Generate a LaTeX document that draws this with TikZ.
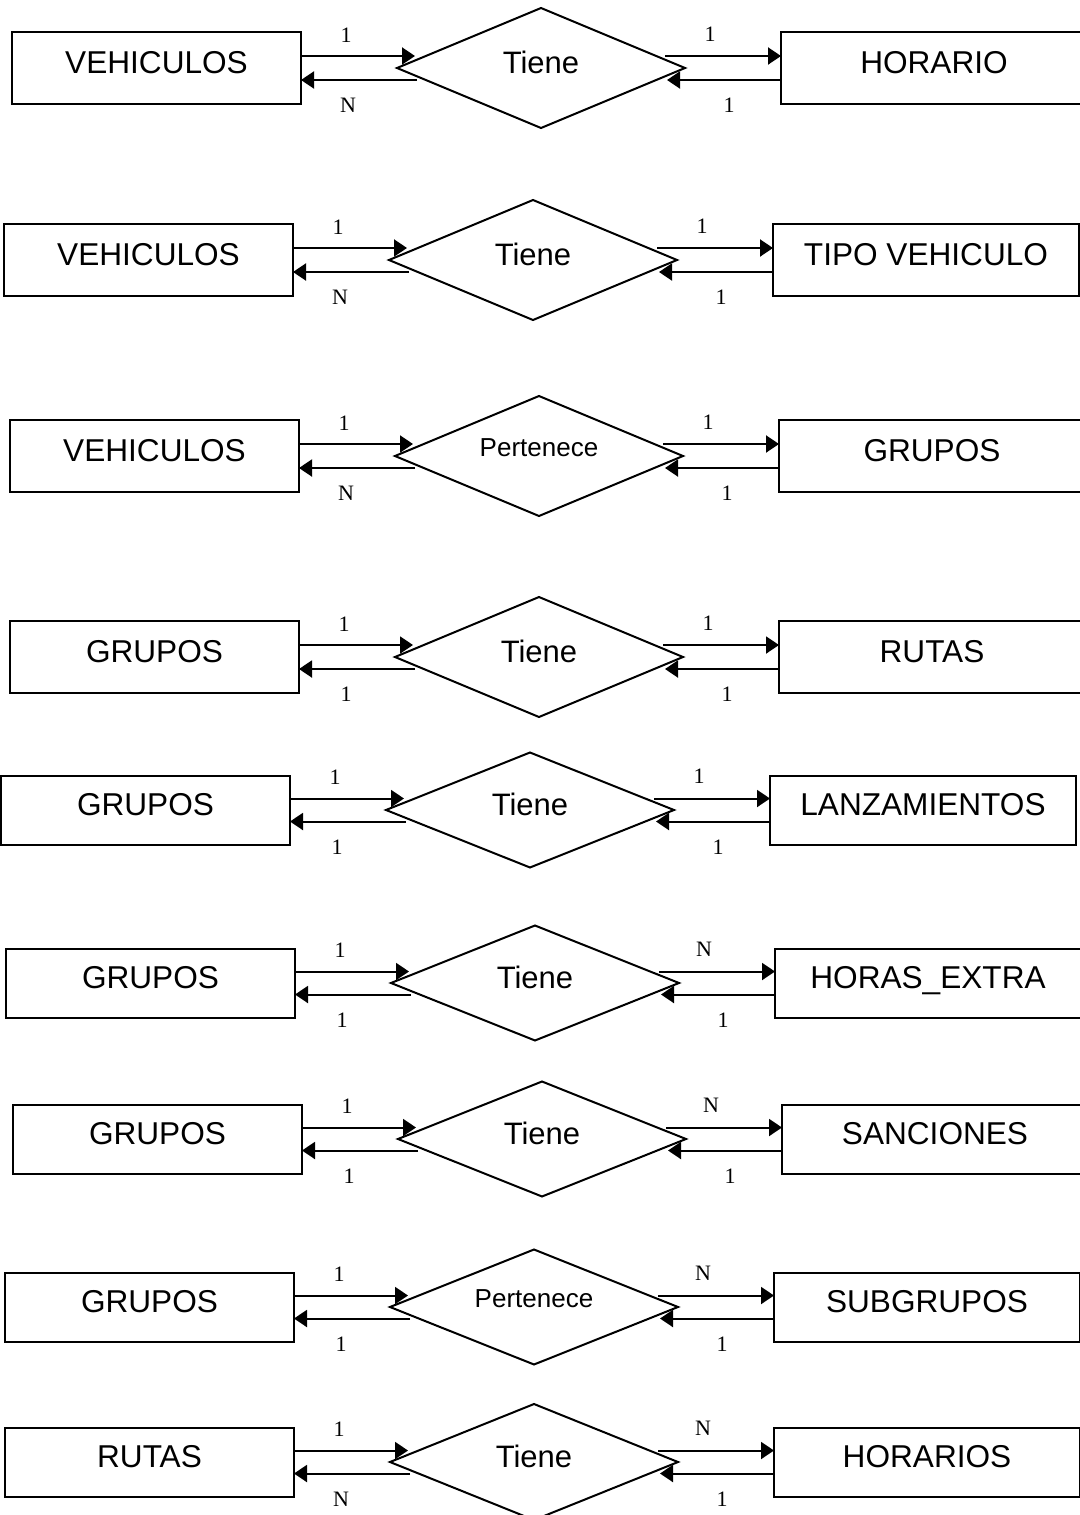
\documentclass[tikz,border=0pt]{standalone}
\usepackage{fontspec}
\setmainfont{Liberation Serif}
\newfontfamily\arialf{Liberation Sans}
\usetikzlibrary{shapes.geometric,arrows.meta,calc}
\begin{document}
\begin{tikzpicture}[x=0.5pt,y=-0.5pt,
  ent/.style={draw, line width=1pt, rectangle, inner sep=0pt, outer sep=0pt,
    font=\arialf\fontsize{15.8}{19}\selectfont, text height=11.3pt, text depth=6.3pt},
  rel/.style={draw, line width=1pt, diamond, aspect=2.4, inner sep=0pt, outer sep=0pt,
    minimum width=144pt},
  tiene/.style={rel, font=\arialf\fontsize{15.5}{18}\selectfont, text height=11.1pt, text depth=6.1pt},
  pert/.style={rel, font=\arialf\fontsize{13}{16}\selectfont, text height=6pt, text depth=6pt},
  card/.style={font=\fontsize{11}{13}\selectfont, inner sep=0pt},
  link/.style={line width=1pt, -{Triangle[length=6.5pt,width=8.5pt]}}]
\useasboundingbox (0,0) rectangle (1080,1515);
\foreach \n/\y/\x/\bh/\dh/\lt/\rs/\rel/\rt/\a/\b/\c/\d in {
  1/68/12/72/120/VEHICULOS/tiene/Tiene/HORARIO/1/N/1/1,
  2/260/4/72/120/VEHICULOS/tiene/Tiene/TIPO VEHICULO/1/N/1/1,
  3/456/10/72/120/VEHICULOS/pert/Pertenece/GRUPOS/1/N/1/1,
  4/657/10/72/120/GRUPOS/tiene/Tiene/RUTAS/1/1/1/1,
  5/810/1/69/115/GRUPOS/tiene/Tiene/LANZAMIENTOS/1/1/1/1,
  6/983/6/69/115/GRUPOS/tiene/Tiene/HORAS\_EXTRA/1/1/N/1,
  7/1139/13/69/115/GRUPOS/tiene/Tiene/SANCIONES/1/1/N/1,
  8/1307/5/69/115/GRUPOS/pert/Pertenece/SUBGRUPOS/1/1/N/1,
  9/1462/5/69/116/RUTAS/tiene/Tiene/HORARIOS/1/N/N/1}
{
  \node[ent, minimum width=144.5pt, minimum height={\bh*0.5pt}] (L\n) at (\x+144.5,\y) {\lt};
  \node[\rs, minimum height={\dh*0.5pt}] (D\n) at (\x+529,\y) {\rel};
  \node[ent, minimum width=153pt, minimum height={\bh*0.5pt}] (R\n) at (\x+922,\y) {\rt};
  \draw[link] ($(L\n.east)+(0,-\bh/6)$) -- ($(D\n.west)+(18,-\bh/6)$);
  \draw[link] ($(D\n.west)+(20,\bh/6)$) -- ($(L\n.east)+(0,\bh/6)$);
  \draw[link] ($(D\n.east)+(-20,-\bh/6)$) -- ($(R\n.west)+(0,-\bh/6)$);
  \draw[link] ($(R\n.west)+(0,\bh/6)$) -- ($(D\n.east)+(-18,\bh/6)$);
  \node[card] (a\n) at ($(L\n.east)+(45,-33)$) {\a};
  \node[card] (b\n) at ($(L\n.east)+(47,37)$) {\b};
  \node[card] (c\n) at ($(D\n.east)+(25,-34)$) {\c};
  \node[card] (d\n) at ($(D\n.east)+(44,37)$) {\d};
}
\end{tikzpicture}
\end{document}
